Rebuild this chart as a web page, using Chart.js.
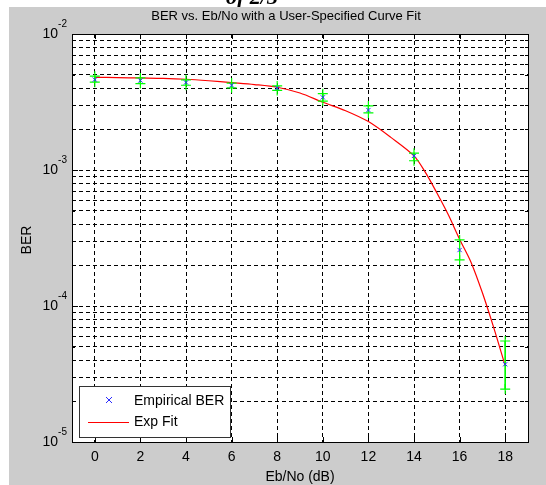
<!DOCTYPE html>
<html>
<head>
<meta charset="utf-8">
<title>BER vs. Eb/No</title>
<script src="https://cdn.jsdelivr.net/npm/chart.js@4.4.1/dist/chart.umd.min.js"></script>
<style>
  html, body { margin: 0; padding: 0; background: #fff; }
  #wrap { width: 546px; height: 485px; position: relative; }
</style>
</head>
<body>
<div id="wrap"><canvas id="berChart" width="546" height="485"></canvas></div>
<script>
// empirical BER (blue x) with confidence limits (green +)
var ebnoPoints = [0, 2, 4, 6, 8, 10, 12, 14, 16, 18];
var berEmpirical = [4.62e-3, 4.55e-3, 4.40e-3, 4.20e-3, 4.00e-3, 3.42e-3, 2.76e-3, 1.27e-3, 2.58e-4, 3.73e-5];
var berUpper = [4.90e-3, 4.75e-3, 4.60e-3, 4.36e-3, 4.15e-3, 3.64e-3, 2.96e-3, 1.33e-3, 3.06e-4, 5.53e-5];
var berLower = [4.42e-3, 4.32e-3, 4.20e-3, 4.02e-3, 3.85e-3, 3.21e-3, 2.63e-3, 1.17e-3, 2.18e-4, 2.45e-5];

// exp fit curve (red)
var fitEbno = [0, 1, 2, 3, 4, 5, 6, 7, 8, 9, 10, 11, 12, 13, 14, 14.5, 15, 15.5, 16, 16.5, 17, 17.5, 18];
var fitBer = [4.80e-3, 4.78e-3, 4.75e-3, 4.72e-3, 4.65e-3, 4.53e-3, 4.39e-3, 4.25e-3, 4.06e-3, 3.68e-3,
              3.15e-3, 2.73e-3, 2.27e-3, 1.73e-3, 1.27e-3, 9.6e-4, 6.8e-4, 4.7e-4, 3.1e-4, 2.1e-4,
              1.25e-4, 6.9e-5, 3.63e-5];

// axes
var xTicks = [0, 2, 4, 6, 8, 10, 12, 14, 16, 18];
var yDecades = [1e-5, 1e-4, 1e-3, 1e-2];
var yDecadeLabels = ['-5', '-4', '-3', '-2'];

var chartTitle = 'BER vs. Eb/No with a User-Specified Curve Fit';
var xLabel = 'Eb/No (dB)';
var yLabel = 'BER';
var legendLabels = ['Empirical BER', 'Exp Fit'];

// 1..9 x 10^n grid lines, like matlab log grid
var yGridTicks = [];
for (var d = 0; d < yDecades.length; d++) {
    for (var m = 1; m <= 9; m++) {
        var v = yDecades[d] * m;
        if (v <= 1e-2 * 1.0001) yGridTicks.push(v);
    }
}

var errorBarData = [];
ebnoPoints.forEach(function (x, i) {
    errorBarData.push({ x: x, y: berUpper[i] });
    errorBarData.push({ x: x, y: berLower[i] });
    errorBarData.push({ x: x, y: null });
});

var FONT = '"Liberation Sans", Arial, sans-serif';

var matlabFrame = {
    id: 'matlabFrame',
    beforeDraw: function (chart) {
        var ctx = chart.ctx;
        var a = chart.chartArea;
        ctx.save();
        ctx.fillStyle = '#ffffff';
        ctx.fillRect(0, 0, chart.width, chart.height);
        ctx.fillStyle = '#cccccc';
        ctx.fillRect(9, 7, chart.width - 9, chart.height - 7);
        ctx.fillStyle = '#ffffff';
        ctx.fillRect(a.left, a.top, a.right - a.left, a.bottom - a.top);

        // page footer left over from the screenshot
        ctx.beginPath();
        ctx.rect(0, 0, chart.width, 7);
        ctx.clip();
        ctx.fillStyle = '#000';
        ctx.font = 'italic bold 22px "Liberation Serif", serif';
        ctx.textBaseline = 'alphabetic';
        ctx.textAlign = 'left';
        ctx.fillText('of 2/3', 226, 4);
        ctx.restore();
    },
    afterDatasetsDraw: function (chart) {
        var ctx = chart.ctx;
        var a = chart.chartArea;
        var xs = chart.scales.x, ys = chart.scales.y;
        ctx.save();
        ctx.strokeStyle = '#000';
        ctx.lineWidth = 1;
        ctx.beginPath();
        // tick marks inside the box
        xTicks.forEach(function (t) {
            var px = Math.round(xs.getPixelForValue(t)) + 0.5;
            ctx.moveTo(px, a.bottom); ctx.lineTo(px, a.bottom - 5);
            ctx.moveTo(px, a.top); ctx.lineTo(px, a.top + 5);
        });
        yGridTicks.forEach(function (t) {
            var py = Math.round(ys.getPixelForValue(t)) + 0.5;
            var len = yDecades.indexOf(t) >= 0 ? 6 : 3;
            ctx.moveTo(a.left, py); ctx.lineTo(a.left + len, py);
            ctx.moveTo(a.right, py); ctx.lineTo(a.right - len, py);
        });
        ctx.stroke();
        ctx.strokeRect(Math.round(a.left) + 0.5, Math.round(a.top) + 0.5,
            Math.round(a.right - a.left), Math.round(a.bottom - a.top));

        // tick labels
        ctx.fillStyle = '#000';
        ctx.font = '14px ' + FONT;
        ctx.textAlign = 'center';
        ctx.textBaseline = 'middle';
        xTicks.forEach(function (t) {
            ctx.fillText(String(t), xs.getPixelForValue(t), a.bottom + 15);
        });
        yDecades.forEach(function (t, i) {
            var py = ys.getPixelForValue(t);
            ctx.font = '10px ' + FONT;
            var ew = ctx.measureText(yDecadeLabels[i]).width;
            ctx.textAlign = 'right';
            ctx.fillText(yDecadeLabels[i], a.left - 5, py - 10);
            ctx.font = '14px ' + FONT;
            ctx.fillText('10', a.left - 5 - ew, py);
        });

        // titles
        ctx.textAlign = 'center';
        ctx.font = '13px ' + FONT;
        ctx.fillText(chartTitle, 286, 16);
        ctx.font = '14px ' + FONT;
        ctx.fillText(xLabel, (a.left + a.right) / 2, 477);
        ctx.translate(27, 240);
        ctx.rotate(-Math.PI / 2);
        ctx.fillText(yLabel, 0, 0);
        ctx.restore();
    },
    afterDraw: function (chart) {
        // legend box, lower left
        var ctx = chart.ctx;
        ctx.save();
        ctx.fillStyle = '#fff';
        ctx.fillRect(79, 386, 151, 51);
        ctx.strokeStyle = '#333';
        ctx.lineWidth = 1;
        ctx.strokeRect(79.5, 386.5, 151, 51);

        ctx.strokeStyle = '#2a2aff';
        ctx.beginPath();
        ctx.moveTo(106, 397); ctx.lineTo(112, 403);
        ctx.moveTo(112, 397); ctx.lineTo(106, 403);
        ctx.stroke();

        ctx.strokeStyle = '#ff0000';
        ctx.beginPath();
        ctx.moveTo(88, 422.5); ctx.lineTo(129, 422.5);
        ctx.stroke();

        ctx.fillStyle = '#000';
        ctx.font = '14px ' + FONT;
        ctx.textAlign = 'left';
        ctx.textBaseline = 'middle';
        ctx.fillText(legendLabels[0], 134, 401);
        ctx.fillText(legendLabels[1], 134, 422);
        ctx.restore();
    }
};

var ctx = document.getElementById('berChart').getContext('2d');
var berChart = new Chart(ctx, {
    type: 'scatter',
    data: {
        datasets: [{
            label: legendLabels[0],
            data: ebnoPoints.map(function (x, i) { return { x: x, y: berEmpirical[i] }; }),
            showLine: false,
            pointStyle: 'crossRot',
            pointRadius: 3,
            pointBorderWidth: 1,
            pointBorderColor: '#2a2aff',
            borderColor: '#2a2aff',
            order: 0
        }, {
            label: 'limits',
            data: errorBarData,
            showLine: true,
            spanGaps: false,
            borderColor: '#00ff00',
            borderWidth: 1,
            pointStyle: 'cross',
            pointRadius: 5,
            pointBorderWidth: 1.2,
            pointBorderColor: '#00ff00',
            order: 1
        }, {
            label: legendLabels[1],
            data: fitEbno.map(function (x, i) { return { x: x, y: fitBer[i] }; }),
            showLine: true,
            borderColor: '#ff0000',
            borderWidth: 1.2,
            pointRadius: 0,
            tension: 0.3,
            order: 2
        }]
    },
    options: {
        responsive: false,
        animation: false,
        devicePixelRatio: 1,
        layout: { padding: { left: 72, top: 34, right: 18, bottom: 43 } },
        plugins: {
            legend: { display: false },
            tooltip: { enabled: false },
            title: { display: false }
        },
        scales: {
            x: {
                type: 'linear',
                min: -1,
                max: 19,
                afterBuildTicks: function (scale) {
                    scale.ticks = xTicks.map(function (v) { return { value: v }; });
                },
                ticks: { display: false },
                grid: { color: '#000', lineWidth: 1, drawTicks: false },
                border: { display: false, dash: [4, 3] }
            },
            y: {
                type: 'logarithmic',
                min: 1e-5,
                max: 1e-2,
                afterBuildTicks: function (scale) {
                    scale.ticks = yGridTicks.map(function (v) { return { value: v }; });
                },
                ticks: { display: false },
                grid: { color: '#000', lineWidth: 1, drawTicks: false },
                border: { display: false, dash: [4, 3] }
            }
        }
    },
    plugins: [matlabFrame]
});
</script>
</body>
</html>
